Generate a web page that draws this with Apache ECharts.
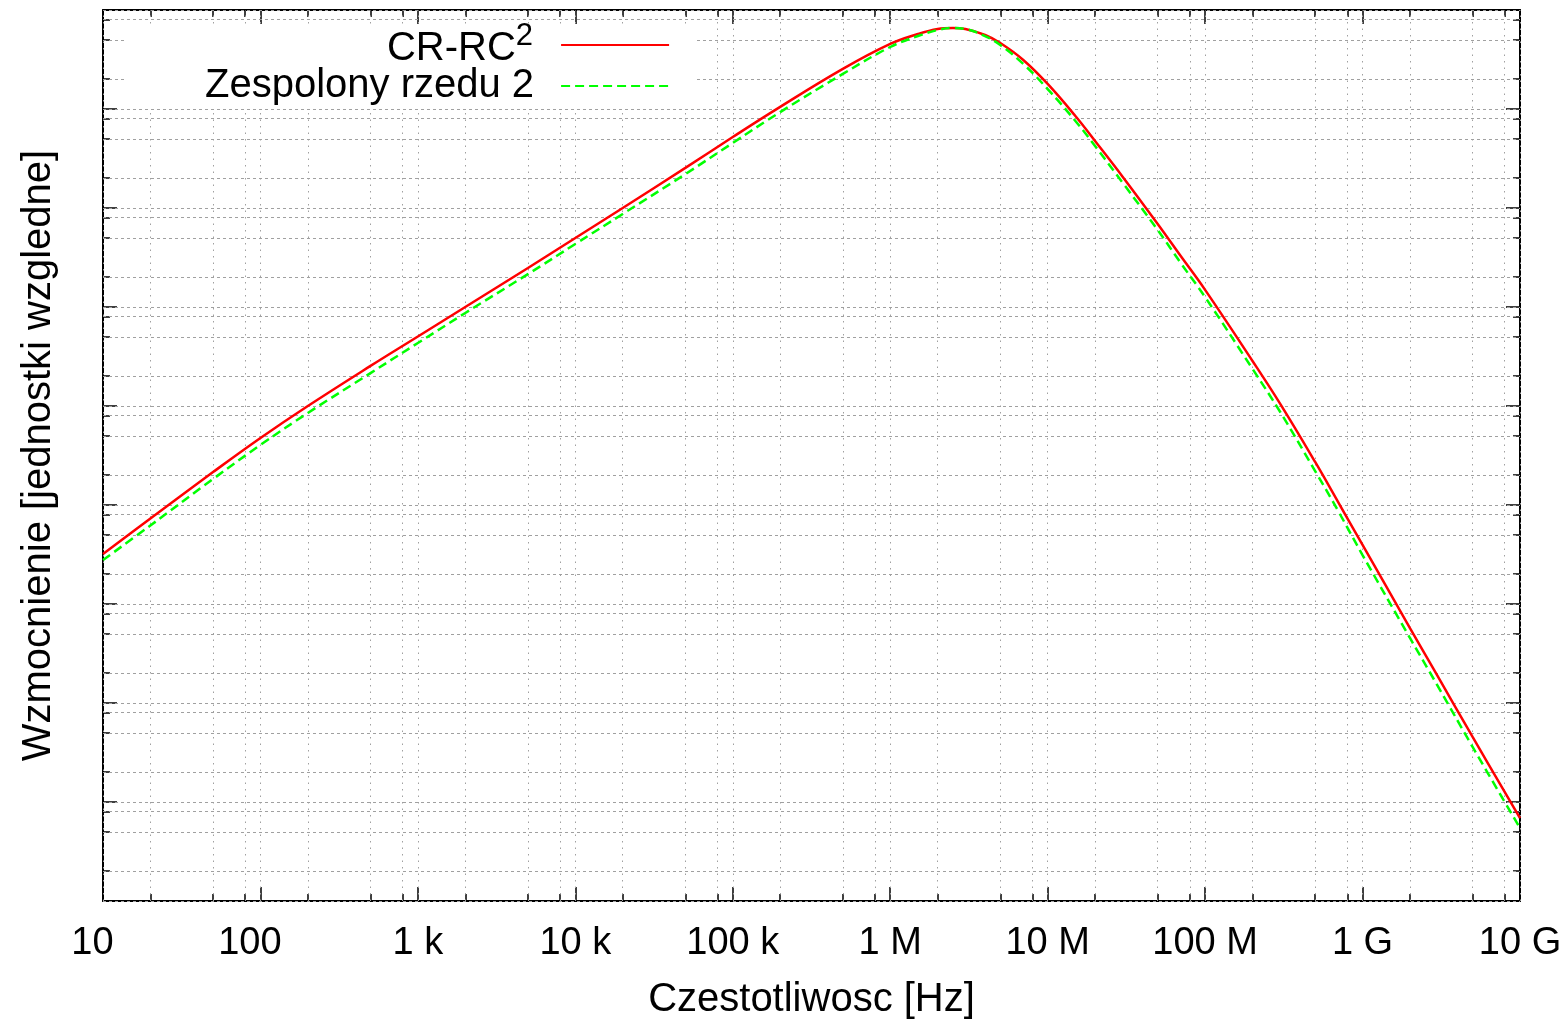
<!DOCTYPE html>
<html>
<head>
<meta charset="utf-8">
<title>CR-RC2 vs zespolony rzedu 2</title>
<script src="https://cdn.jsdelivr.net/npm/echarts@6/dist/echarts.min.js"></script>
<style>
  html, body { margin: 0; padding: 0; background: #fff; }
  #chart { width: 1567px; height: 1025px; }
</style>
</head>
<body>
<div id="chart"></div>
<script>
// frequency samples [Hz]
const freqHz = [
  10, 20, 50, 100, 200, 500, 1e3, 2e3, 5e3, 1e4, 2e4, 5e4, 1e5, 2e5, 5e5,
  1e6, 1.5e6, 2e6, 2.5e6, 3e6, 4e6, 5e6, 7e6, 1e7, 1.5e7, 2e7, 3e7, 5e7, 7e7,
  1e8, 2e8, 3e8, 5e8, 7e8, 1e9, 2e9, 3e9, 5e9, 1e10
];
// gain (relative units)
const crRc2 = [
  3.20e3, 7.31e3, 2.15e4, 4.75e4, 1.0e5, 2.54e5, 5.04e5, 1.0e6, 2.48e6, 4.98e6,
  1.0e7, 2.54e7, 5.21e7, 1.05e8, 2.54e8, 4.54e8, 5.72e8, 6.43e8, 6.58e8, 6.43e8,
  5.59e8, 4.64e8, 3.13e8, 1.79e8, 8.49e7, 4.75e7, 2.06e7, 6.89e6, 3.27e6, 1.49e6,
  2.85e5, 1.05e5, 2.72e4, 1.07e4, 3.95e3, 572, 187, 45.4, 6.89
];
const complex2 = [
  2.78e3, 6.21e3, 1.83e4, 4.04e4, 8.5e4, 2.15e5, 4.33e5, 8.7e5, 2.15e6, 4.33e6,
  8.7e6, 2.2e7, 4.54e7, 9.3e7, 2.26e8, 4.23e8, 5.46e8, 6.28e8, 6.58e8, 6.43e8,
  5.46e8, 4.43e8, 2.85e8, 1.59e8, 7.57e7, 4.23e7, 1.79e7, 6.0e6, 2.78e6, 1.26e6,
  2.37e5, 8.7e4, 2.2e4, 8.7e3, 3.12e3, 454, 149, 36.0, 5.46
];

const xMajorTicks = [10, 1e2, 1e3, 1e4, 1e5, 1e6, 1e7, 1e8, 1e9, 1e10];
const xTickLabels = ['10  ', '100  ', '1 k', '10 k', '100 k', '1 M', '10 M', '100 M', '1 G', '10 G'];
const yMajorTicks = [1, 10, 1e2, 1e3, 1e4, 1e5, 1e6, 1e7, 1e8, 1e9];
const minorFactors = [2, 5, 8];

function minorTicks(majors) {
  const out = [];
  for (let i = 0; i < majors.length - 1; i++) {
    for (const f of minorFactors) out.push(majors[i] * f);
  }
  return out;
}
const xMinorTicks = minorTicks(xMajorTicks);
const yMinorTicks = minorTicks(yMajorTicks);

const FONT = '"Liberation Sans", Arial, sans-serif';
const tickLine = { color: '#000', width: 1.5 };
const frameLine = { show: true, lineStyle: { color: '#000', width: 2 } };

function xAxisAt(position, ticks, len, withLine) {
  return {
    type: 'log', logBase: 10, min: 10, max: 1e10, position,
    axisLine: withLine ? frameLine : { show: false },
    axisTick: { show: true, inside: true, length: len, customValues: ticks, lineStyle: tickLine },
    axisLabel: { show: false },
    splitLine: { show: false }
  };
}
function yAxisAt(position, ticks, len, withLine) {
  return {
    type: 'log', logBase: 10, min: 1, max: 1e9, position,
    axisLine: withLine ? frameLine : { show: false },
    axisTick: { show: true, inside: true, length: len, customValues: ticks, lineStyle: tickLine },
    axisLabel: { show: false },
    splitLine: { show: false }
  };
}

const xBottom = xAxisAt('bottom', xMajorTicks, 14, true);
xBottom.name = 'Czestotliwosc [Hz]';
xBottom.nameLocation = 'middle';
xBottom.nameGap = 79;
xBottom.nameTextStyle = { fontFamily: FONT, fontSize: 40, color: '#000' };
xBottom.axisLabel = {
  show: true, customValues: xMajorTicks, margin: 24,
  fontFamily: FONT, fontSize: 38, color: '#000',
  formatter: (v) => xTickLabels[Math.round(Math.log10(v)) - 1]
};

const yLeft = yAxisAt('left', yMajorTicks, 14, true);
yLeft.name = 'Wzmocnienie [jednostki wzgledne]';
yLeft.nameLocation = 'middle';
yLeft.nameGap = 44;
yLeft.nameTextStyle = { fontFamily: FONT, fontSize: 40, color: '#000' };

const gridLines = []
  .concat(xMajorTicks.concat(xMinorTicks).map((v) => ({
    xAxis: v, lineStyle: { color: '#a0a0a0', width: 1, type: [1.5, 5] }
  })))
  .concat(yMajorTicks.concat(yMinorTicks).map((v) => ({
    yAxis: v, lineStyle: { color: '#a0a0a0', width: 1, type: [3, 3] }
  })));

const chart = echarts.init(document.getElementById('chart'));
chart.setOption({
  animation: false,
  backgroundColor: '#fff',
  grid: { left: 103, right: 47, top: 10, bottom: 124, outerBoundsMode: 'none' },
  legend: {
    data: ['CR-RC2', 'Zespolony rzedu 2'],
    orient: 'vertical',
    align: 'right',
    left: 127,
    top: 24,
    itemWidth: 108,
    itemHeight: 14,
    itemGap: -3,
    selectedMode: false,
    backgroundColor: '#fff',
    padding: [-3, 24, 2, 78],
    itemStyle: { opacity: 0 },
    textStyle: {
      fontFamily: FONT, fontSize: 40, color: '#000', lineHeight: 40,
      padding: [0, 22, 0, 0],
      rich: {
        b: { fontFamily: FONT, fontSize: 40, color: '#000', lineHeight: 40, verticalAlign: 'bottom' },
        sup: { fontFamily: FONT, fontSize: 31, color: '#000', lineHeight: 22, verticalAlign: 'top' },
        h: { fontFamily: FONT, fontSize: 8, lineHeight: 48, width: 1, verticalAlign: 'top' }
      }
    },
    formatter: (name) => (name === 'CR-RC2' ? '{b|CR-RC}{sup|2}{h| }' : name)
  },
  xAxis: [
    xBottom,
    xAxisAt('bottom', xMinorTicks, 7, false),
    xAxisAt('top', xMajorTicks, 14, true),
    xAxisAt('top', xMinorTicks, 7, false)
  ],
  yAxis: [
    yLeft,
    yAxisAt('left', yMinorTicks, 7, false),
    yAxisAt('right', yMajorTicks, 14, true),
    yAxisAt('right', yMinorTicks, 7, false)
  ],
  series: [
    {
      name: 'grid',
      type: 'line',
      data: [],
      silent: true,
      markLine: {
        silent: true,
        z: 1,
        symbol: ['none', 'none'],
        label: { show: false },
        emphasis: { disabled: true },
        data: gridLines
      }
    },
    {
      name: 'CR-RC2',
      type: 'line',
      data: freqHz.map((f, i) => [f, crRc2[i]]),
      showSymbol: false,
      symbol: 'none',
      smooth: 0.4,
      z: 3,
      lineStyle: { color: '#ff0000', width: 2.5 },
      itemStyle: { color: '#ff0000' }
    },
    {
      name: 'Zespolony rzedu 2',
      type: 'line',
      data: freqHz.map((f, i) => [f, complex2[i]]),
      showSymbol: false,
      symbol: 'none',
      smooth: 0.4,
      z: 4,
      lineStyle: { color: '#00ff00', width: 2.5, type: [9, 5] },
      itemStyle: { color: '#00ff00' }
    }
  ]
});
</script>
</body>
</html>
